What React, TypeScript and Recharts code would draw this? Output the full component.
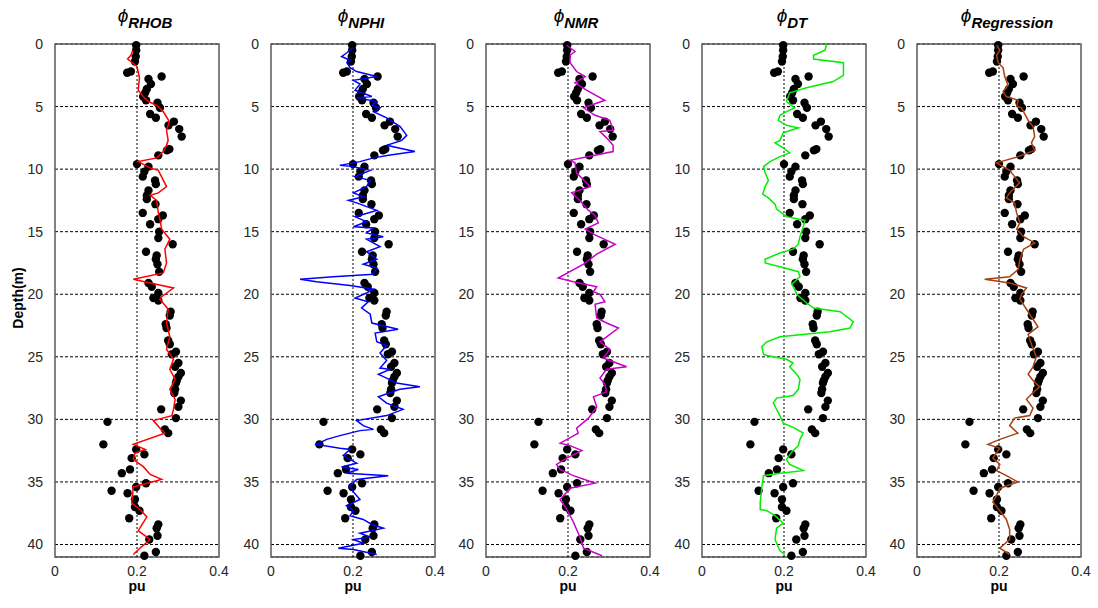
import React from 'react';
import { ScatterChart, Scatter, XAxis, YAxis, CartesianGrid, ReferenceLine, ReferenceArea } from 'recharts';

// [depth (m), porosity (pu)]
type Pt = [number, number];

// Core porosity samples (black dots, same in every track)
const core: Pt[] = [
  [0.1, 0.198], [0.5, 0.198], [1.0, 0.197], [1.4, 0.195], [2.2, 0.185], [2.3, 0.176],
  [2.6, 0.26], [2.8, 0.228], [3.2, 0.234], [3.6, 0.224], [3.9, 0.22], [4.2, 0.215],
  [4.5, 0.222], [4.7, 0.25], [5.1, 0.256], [5.6, 0.232], [5.9, 0.246], [6.2, 0.29],
  [6.5, 0.277], [6.8, 0.303], [7.4, 0.309], [8.4, 0.279], [8.5, 0.273], [8.9, 0.252],
  [9.6, 0.2], [9.8, 0.228], [10.2, 0.218], [10.6, 0.214], [10.9, 0.244], [11.2, 0.246],
  [11.7, 0.228], [12.1, 0.224], [12.4, 0.224], [12.8, 0.245], [13.5, 0.214], [13.7, 0.263],
  [14.0, 0.252], [14.4, 0.232], [15.0, 0.254], [15.5, 0.252], [16.0, 0.287], [16.6, 0.222],
  [16.9, 0.248], [17.2, 0.246], [17.6, 0.25], [18.2, 0.254], [19.1, 0.228], [19.4, 0.236],
  [19.9, 0.252], [20.3, 0.24], [20.5, 0.252], [21.4, 0.282], [21.7, 0.28], [22.4, 0.27],
  [22.7, 0.272], [23.7, 0.276], [24.0, 0.28], [24.6, 0.295], [24.8, 0.285], [25.5, 0.301],
  [25.8, 0.293], [26.3, 0.307], [26.6, 0.301], [26.9, 0.297], [27.1, 0.295], [27.6, 0.293],
  [27.9, 0.291], [28.5, 0.307], [29.0, 0.301], [29.2, 0.259], [29.9, 0.295], [30.2, 0.128],
  [30.8, 0.268], [31.1, 0.276], [32.0, 0.118], [32.4, 0.198], [32.8, 0.218], [33.1, 0.187],
  [34.0, 0.183], [34.3, 0.163], [35.1, 0.222], [35.4, 0.198], [35.7, 0.138], [35.9, 0.177],
  [36.4, 0.195], [37.0, 0.195], [37.3, 0.206], [37.9, 0.181], [38.4, 0.252], [38.7, 0.248],
  [39.3, 0.25], [39.6, 0.23], [40.6, 0.246], [40.9, 0.218],
];

const rhob: Pt[] = [
  [0.5, 0.19], [0.9, 0.185], [1.2, 0.177], [1.8, 0.2], [2.7, 0.206], [3.7, 0.203],
  [4.2, 0.215], [4.6, 0.228], [4.9, 0.248], [5.4, 0.264], [6.2, 0.279], [6.9, 0.272],
  [7.7, 0.276], [8.1, 0.272], [8.6, 0.264], [9.1, 0.248], [9.4, 0.203], [9.9, 0.232],
  [10.1, 0.252], [11.4, 0.272], [11.9, 0.252], [12.1, 0.232], [12.5, 0.248], [13.5, 0.252],
  [14.0, 0.256], [14.8, 0.26], [15.6, 0.28], [16.4, 0.268], [17.5, 0.272], [18.3, 0.264],
  [18.8, 0.191], [19.1, 0.232], [19.5, 0.289], [20.2, 0.26], [20.4, 0.256], [21.2, 0.276],
  [22.3, 0.272], [23.4, 0.28], [24.4, 0.272], [25.2, 0.289], [26.0, 0.28], [26.8, 0.293],
  [27.6, 0.28], [28.4, 0.293], [29.2, 0.289], [29.7, 0.285], [30.1, 0.24], [30.7, 0.256],
  [31.1, 0.268], [32.0, 0.191], [32.4, 0.22], [32.7, 0.195], [33.2, 0.191], [33.8, 0.216],
  [34.4, 0.232], [34.8, 0.26], [35.4, 0.191], [36.7, 0.187], [37.2, 0.207], [37.8, 0.224],
  [38.9, 0.203], [39.6, 0.232], [40.3, 0.207], [40.8, 0.191],
];

const nphi: Pt[] = [
  [0.3, 0.2], [0.7, 0.185], [1.0, 0.172], [1.3, 0.193], [1.5, 0.185], [1.9, 0.193],
  [2.2, 0.209], [2.6, 0.258], [2.9, 0.201], [3.2, 0.217], [3.7, 0.205], [3.9, 0.222],
  [4.2, 0.246], [4.3, 0.209], [4.6, 0.258], [4.9, 0.246], [5.1, 0.266], [5.4, 0.25],
  [5.9, 0.282], [6.6, 0.315], [7.3, 0.331], [7.7, 0.319], [8.1, 0.282], [8.6, 0.351],
  [8.9, 0.287], [9.1, 0.25], [9.4, 0.217], [9.7, 0.168], [9.8, 0.201], [10.1, 0.242],
  [10.6, 0.205], [10.9, 0.242], [11.4, 0.233], [11.9, 0.201], [12.2, 0.225], [12.5, 0.189],
  [12.7, 0.209], [13.3, 0.258], [13.8, 0.205], [14.2, 0.233], [14.6, 0.201], [14.7, 0.25],
  [15.1, 0.233], [15.4, 0.274], [15.6, 0.233], [16.2, 0.266], [16.6, 0.233], [17.2, 0.258],
  [17.6, 0.225], [17.9, 0.258], [18.4, 0.25], [18.6, 0.152], [18.8, 0.071], [19.0, 0.111],
  [19.3, 0.193], [19.6, 0.25], [19.9, 0.233], [20.3, 0.205], [20.6, 0.237], [21.1, 0.221],
  [21.6, 0.242], [22.3, 0.246], [22.8, 0.31], [23.1, 0.254], [23.8, 0.258], [24.1, 0.282],
  [24.7, 0.266], [25.3, 0.282], [25.9, 0.266], [26.0, 0.29], [26.4, 0.262], [26.7, 0.282],
  [27.1, 0.306], [27.4, 0.363], [27.6, 0.314], [28.2, 0.262], [28.7, 0.282], [29.2, 0.322],
  [29.7, 0.282], [30.1, 0.209], [30.5, 0.225], [30.8, 0.25], [30.9, 0.217], [31.3, 0.168],
  [31.6, 0.136], [32.0, 0.111], [32.3, 0.168], [32.4, 0.193], [32.9, 0.176], [33.5, 0.209],
  [33.8, 0.172], [34.0, 0.213], [34.3, 0.184], [34.5, 0.286], [34.8, 0.209], [35.3, 0.193],
  [35.8, 0.201], [36.4, 0.217], [36.9, 0.184], [37.3, 0.201], [37.7, 0.193], [38.0, 0.225],
  [38.4, 0.246], [38.7, 0.274], [39.1, 0.217], [39.4, 0.242], [39.6, 0.201], [39.9, 0.225],
  [40.3, 0.164], [40.4, 0.201], [40.8, 0.258],
];

const nmr: Pt[] = [
  [0.1, 0.197], [0.6, 0.217], [0.9, 0.205], [1.5, 0.205], [2.2, 0.221], [2.6, 0.242],
  [3.1, 0.217], [3.7, 0.246], [4.5, 0.29], [5.1, 0.238], [5.7, 0.266], [6.1, 0.302],
  [6.9, 0.31], [7.0, 0.278], [7.5, 0.294], [8.1, 0.31], [8.6, 0.31], [9.3, 0.205],
  [9.5, 0.217], [10.3, 0.221], [11.4, 0.254], [11.9, 0.209], [12.5, 0.229], [13.3, 0.25],
  [13.7, 0.266], [14.3, 0.274], [14.8, 0.242], [15.2, 0.262], [16.0, 0.315], [16.8, 0.27],
  [17.6, 0.238], [18.7, 0.176], [19.0, 0.213], [19.4, 0.27], [19.8, 0.262], [20.0, 0.278],
  [20.6, 0.29], [20.8, 0.266], [21.9, 0.27], [22.3, 0.294], [22.7, 0.323], [23.8, 0.278],
  [24.4, 0.302], [25.1, 0.286], [25.8, 0.343], [26.0, 0.294], [26.7, 0.278], [27.2, 0.29],
  [27.8, 0.294], [28.2, 0.262], [29.0, 0.27], [29.9, 0.25], [30.7, 0.221], [31.1, 0.225],
  [31.9, 0.181], [32.1, 0.205], [32.5, 0.234], [33.1, 0.197], [33.6, 0.172], [34.0, 0.181],
  [34.5, 0.213], [35.1, 0.266], [35.5, 0.205], [36.4, 0.181], [37.2, 0.197], [38.2, 0.213],
  [39.4, 0.229], [40.3, 0.238], [40.9, 0.283],
];

const dt: Pt[] = [
  [0.0, 0.304], [0.5, 0.3], [0.9, 0.272], [1.2, 0.272], [1.5, 0.345], [2.5, 0.345],
  [3.0, 0.32], [3.5, 0.255], [3.9, 0.214], [4.6, 0.206], [5.1, 0.226], [5.4, 0.206],
  [5.7, 0.19], [6.1, 0.186], [6.5, 0.206], [6.7, 0.235], [7.1, 0.198], [7.7, 0.19],
  [7.9, 0.178], [8.3, 0.198], [8.7, 0.214], [9.0, 0.19], [9.4, 0.166], [9.8, 0.15],
  [10.3, 0.154], [10.9, 0.162], [11.4, 0.154], [12.0, 0.148], [12.3, 0.162], [12.8, 0.178],
  [13.2, 0.182], [13.8, 0.206], [13.9, 0.222], [14.1, 0.251], [14.6, 0.247], [15.4, 0.239],
  [16.0, 0.235], [16.4, 0.222], [16.7, 0.19], [17.2, 0.154], [17.5, 0.154], [17.8, 0.19],
  [18.2, 0.235], [18.6, 0.239], [19.2, 0.219], [19.6, 0.226], [20.0, 0.231], [20.7, 0.255],
  [21.1, 0.272], [21.4, 0.337], [22.2, 0.369], [22.7, 0.361], [23.0, 0.312], [23.4, 0.19],
  [23.8, 0.158], [24.2, 0.146], [24.8, 0.15], [24.9, 0.158], [25.2, 0.206], [25.5, 0.222],
  [25.8, 0.214], [26.4, 0.231], [26.8, 0.239], [27.6, 0.235], [28.1, 0.222], [28.3, 0.182],
  [28.7, 0.174], [29.2, 0.182], [29.7, 0.19], [30.3, 0.198], [30.7, 0.226], [31.1, 0.247],
  [31.6, 0.239], [32.1, 0.235], [32.6, 0.219], [33.2, 0.206], [33.6, 0.214], [34.1, 0.247],
  [34.3, 0.19], [34.5, 0.15], [35.4, 0.146], [36.6, 0.142], [37.2, 0.142], [37.3, 0.158],
  [37.7, 0.178], [38.3, 0.198], [38.7, 0.182], [39.6, 0.178], [40.5, 0.19], [40.8, 0.202],
];

const regression: Pt[] = [
  [0.1, 0.194], [0.5, 0.202], [0.9, 0.194], [1.5, 0.198], [1.9, 0.21], [2.6, 0.214],
  [3.3, 0.222], [3.8, 0.21], [4.2, 0.218], [4.5, 0.247], [5.0, 0.243], [5.1, 0.255],
  [6.1, 0.271], [6.6, 0.283], [7.4, 0.287], [7.9, 0.279], [8.5, 0.287], [9.0, 0.247],
  [9.5, 0.194], [9.8, 0.21], [10.1, 0.226], [10.6, 0.238], [11.1, 0.25], [11.9, 0.226],
  [12.3, 0.218], [12.7, 0.238], [13.5, 0.243], [14.3, 0.251], [14.8, 0.243], [15.4, 0.26],
  [15.9, 0.287], [16.4, 0.26], [17.2, 0.251], [18.0, 0.247], [18.6, 0.226], [18.8, 0.165],
  [19.1, 0.226], [19.5, 0.267], [20.0, 0.255], [20.4, 0.251], [21.2, 0.267], [22.0, 0.283],
  [22.6, 0.295], [23.2, 0.271], [24.0, 0.279], [25.0, 0.291], [25.8, 0.283], [26.4, 0.271],
  [26.9, 0.283], [27.4, 0.299], [28.0, 0.279], [28.4, 0.267], [29.1, 0.283], [29.7, 0.275],
  [29.9, 0.238], [30.5, 0.226], [31.1, 0.246], [31.6, 0.202], [32.0, 0.173], [32.3, 0.202],
  [33.1, 0.185], [33.6, 0.202], [34.1, 0.194], [34.5, 0.218], [35.0, 0.246], [35.5, 0.202],
  [36.1, 0.194], [36.6, 0.185], [37.3, 0.202], [38.0, 0.218], [38.8, 0.226], [39.6, 0.226],
  [40.3, 0.202], [40.8, 0.226],
];

const depthTicks = [0, 5, 10, 15, 20, 25, 30, 35, 40];
const phiTicks = [0, 0.2, 0.4];

const tracks = [
  { name: 'RHOB', color: '#ff0000', log: rhob, left: 55 },
  { name: 'NPHI', color: '#0000ff', log: nphi, left: 271 },
  { name: 'NMR', color: '#c800c8', log: nmr, left: 486 },
  { name: 'DT', color: '#00ee00', log: dt, left: 702 },
  { name: 'Regression', color: '#a8400f', log: regression, left: 917 },
];

const toRows = (pts: Pt[]) => pts.map(([d, v]) => ({ d, v }));

const FONT = '"Liberation Sans", Arial, sans-serif';
const PLOT_W = 164;
const tickStyle = { fontSize: 14, fill: '#262626', fontFamily: FONT };

const Dot = (p: any) => <circle cx={p.cx} cy={p.cy} r={4.2} fill="#000" />;
const NoDot = () => <g />;

const Track = ({ name, color, log, left }: (typeof tracks)[number]) => (
  <>
    <div style={{ position: 'absolute', left: left - 40, top: 0 }}>
      <ScatterChart width={214} height={608} margin={{ top: 44, right: 10, bottom: 21, left: 10 }}>
        <CartesianGrid vertical={false} stroke="#000" strokeDasharray="3 2" />
        <ReferenceLine x={0.2} stroke="#000" strokeDasharray="2 2" />
        <XAxis type="number" dataKey="v" domain={[0, 0.4]} ticks={phiTicks} height={30}
          axisLine={false} tickLine={false} tick={tickStyle} tickMargin={3} />
        <YAxis type="number" dataKey="d" domain={[0, 41]} ticks={depthTicks} reversed width={30}
          axisLine={false} tickLine={false} tick={tickStyle} tickMargin={6} />
        <Scatter data={toRows(core)} shape={Dot} isAnimationActive={false} />
        <Scatter data={toRows(log)} shape={NoDot} line={{ stroke: color, strokeWidth: 1.5 }}
          isAnimationActive={false} />
        <ReferenceArea x1={0} x2={0.4} y1={0} y2={41} fill="none" stroke="#5a5a5a" strokeWidth={1.5} />
      </ScatterChart>
    </div>
    <div style={{ position: 'absolute', left: left + 8, width: PLOT_W, top: 5, textAlign: 'center',
      fontFamily: FONT, fontStyle: 'italic', color: '#000', whiteSpace: 'nowrap' }}>
      <span style={{ fontSize: 19 }}>ϕ</span>
      <span style={{ fontSize: 15, fontWeight: 'bold', position: 'relative', top: 6 }}>{name}</span>
    </div>
    <div style={{ position: 'absolute', left, width: PLOT_W, top: 578, textAlign: 'center',
      fontFamily: FONT, fontWeight: 'bold', fontSize: 14, color: '#000' }}>pu</div>
  </>
);

export default function App() {
  return (
    <div style={{ position: 'absolute', left: 0, top: 0, width: 1098, height: 608, background: '#fff' }}>
      {tracks.map((t) => <Track key={t.name} {...t} />)}
      <div style={{ position: 'absolute', left: 18, top: 298, transform: 'translate(-50%, -50%) rotate(-90deg)',
        fontFamily: FONT, fontWeight: 'bold', fontSize: 14, whiteSpace: 'nowrap', color: '#000' }}>Depth(m)</div>
    </div>
  );
}
